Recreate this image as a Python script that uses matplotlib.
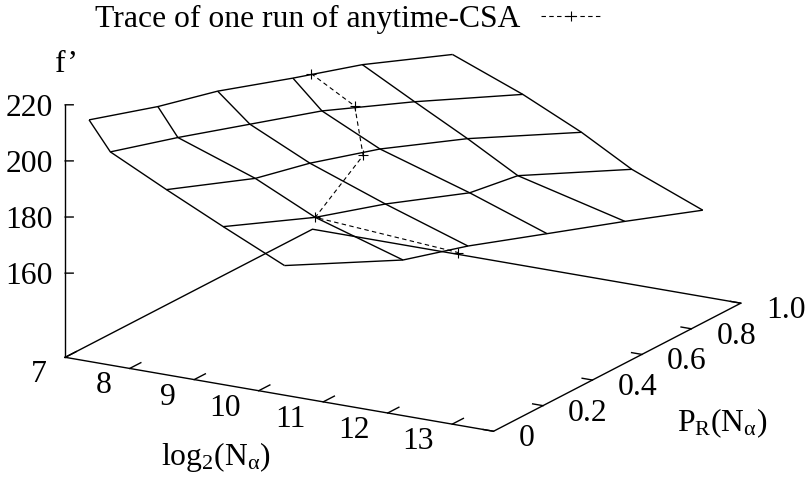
import numpy as np
import matplotlib
matplotlib.use("Agg")
import matplotlib.pyplot as plt
from matplotlib.transforms import offset_copy
from mpl_toolkits.mplot3d import proj3d

plt.rcParams["font.family"] = ["Liberation Serif", "DejaVu Serif"]
plt.rcParams["mathtext.fontset"] = "custom"
plt.rcParams["mathtext.rm"] = "Liberation Serif"
plt.rcParams["mathtext.it"] = "Liberation Serif:italic"
plt.rcParams["font.size"] = 22.8

# surface: one row per isoline, one column per P_R setting
pr_levels = [0.0, 0.2, 0.4, 0.6, 0.8, 1.0]
log2_n = [
    [7.37, 7.67, 7.83, 8.23, 8.54, 9.17],
    [7.70, 7.98, 8.33, 8.68, 9.35, 10.26],
    [8.57, 9.18, 9.26, 9.58, 10.17, 11.17],
    [9.45, 10.11, 10.43, 10.97, 10.95, 11.95],
    [10.40, 11.47, 11.71, 12.17, 12.61, 13.05],
]
f_prime = [
    [216.1, 212.9, 209.9, 207.0, 203.9, 200.9],
    [206.0, 203.1, 200.1, 197.1, 193.9, 191.0],
    [196.0, 193.3, 189.9, 187.1, 184.0, 181.1],
    [186.3, 183.1, 180.0, 177.0, 173.9, 171.0],
    [176.2, 173.3, 170.1, 167.2, 164.2, 160.8],
]

# one run of anytime-CSA
trace_log2_n = [8.32, 8.92, 9.51, 10.11, 11.67]
trace_pr = [0.65, 0.67, 0.55, 0.20, 0.37]
trace_f = [206.7, 196.6, 186.8, 183.1, 169.0]

x_ticks = [7, 8, 9, 10, 11, 12, 13]
y_ticks = [0.0, 0.2, 0.4, 0.6, 0.8, 1.0]
y_ticklabels = ["0", "0.2", "0.4", "0.6", "0.8", "1.0"]
z_ticks = [160, 180, 200, 220]

X_MIN, X_MAX = 7.0, 13.64
Y_MIN, Y_MAX = 0.0, 1.0
Z_TOP = 220.0
Z_BASE = 160.0 - 0.5 * (Z_TOP - 160.0)   # ticslevel 0.5

fig = plt.figure(figsize=(8.09, 4.83), dpi=100)
side = 726
cx, cy = 393.2, 213.8
ax = fig.add_axes([(cx - side / 2) / 809, (483 - cy - side / 2) / 483,
                   side / 809, side / 483], projection="3d", proj_type="ortho")
ax.set_axis_off()
ax.view_init(elev=17.4, azim=-60)
ax.set_box_aspect((1, 1, 0.535))
ax.set_xlim(X_MIN, X_MAX)
ax.set_ylim(Y_MIN, Y_MAX)
ax.set_zlim(Z_BASE, Z_TOP)

line_kw = dict(color="black", linewidth=1.0)
M = ax.get_proj()


def tic_label(x, y, z, s, dx, dy, **kw):
    """Put a 2D label next to the projected 3D point, shifted by (dx, dy) px."""
    a, b, _ = proj3d.proj_transform(x, y, z, M)
    ax.text2D(a, b, s, va="center_baseline",
              transform=offset_copy(ax.transData, x=dx, y=dy, units="dots"),
              **kw)


# base rectangle and z axis
ax.plot([X_MIN, X_MAX, X_MAX, X_MIN, X_MIN], [Y_MIN, Y_MIN, Y_MAX, Y_MAX, Y_MIN],
        [Z_BASE] * 5, **line_kw)
ax.plot([X_MIN, X_MIN], [Y_MIN, Y_MIN], [Z_BASE, Z_TOP], **line_kw)

# tic marks
for t in x_ticks:
    ax.plot([t, t], [Y_MIN, Y_MIN + 0.045], [Z_BASE] * 2, **line_kw)
    tic_label(t, Y_MIN, Z_BASE, str(t), -18, -14, ha="right")
for t, lab in zip(y_ticks, y_ticklabels):
    ax.plot([X_MAX, X_MAX - 0.16], [t, t], [Z_BASE] * 2, **line_kw)
    tic_label(X_MAX, t, Z_BASE, lab, 25, -4, ha="left")
for t in z_ticks:
    ax.plot([X_MIN, X_MIN + 0.093], [Y_MIN, Y_MIN + 0.0082], [t, t], **line_kw)
    tic_label(X_MIN, Y_MIN, t, str(t), -12, 0, ha="right")

# surface mesh
X = np.array(log2_n)
Y = np.tile(pr_levels, (len(log2_n), 1))
Z = np.array(f_prime)
ax.plot_wireframe(X, Y, Z, color="black", linewidth=1.0)

trace, = ax.plot(trace_log2_n, trace_pr, trace_f, color="black", linewidth=0.8,
                 linestyle=(0, (4, 3)), marker="+", markersize=7,
                 markeredgewidth=0.8)

fig.text(216 / 809, 1 - 465 / 483, r"$\mathrm{log_2(N_\alpha)}$", ha="center",
         va="baseline")
fig.text(722 / 809, 1 - 431 / 483, r"$\mathrm{P_R(N_\alpha)}$", ha="center",
         va="baseline")
fig.text(55 / 809, 1 - 72 / 483, "f\u2019", ha="left", va="baseline")

fig.legend([trace], ["Trace of one run of anytime-CSA"], loc="upper left",
           bbox_to_anchor=(95 / 809, 1 - 5 / 483), frameon=False,
           markerfirst=False, handlelength=1.85, handletextpad=0.66,
           borderpad=0.0, borderaxespad=0.0)

fig.savefig("out.png", dpi=100)
